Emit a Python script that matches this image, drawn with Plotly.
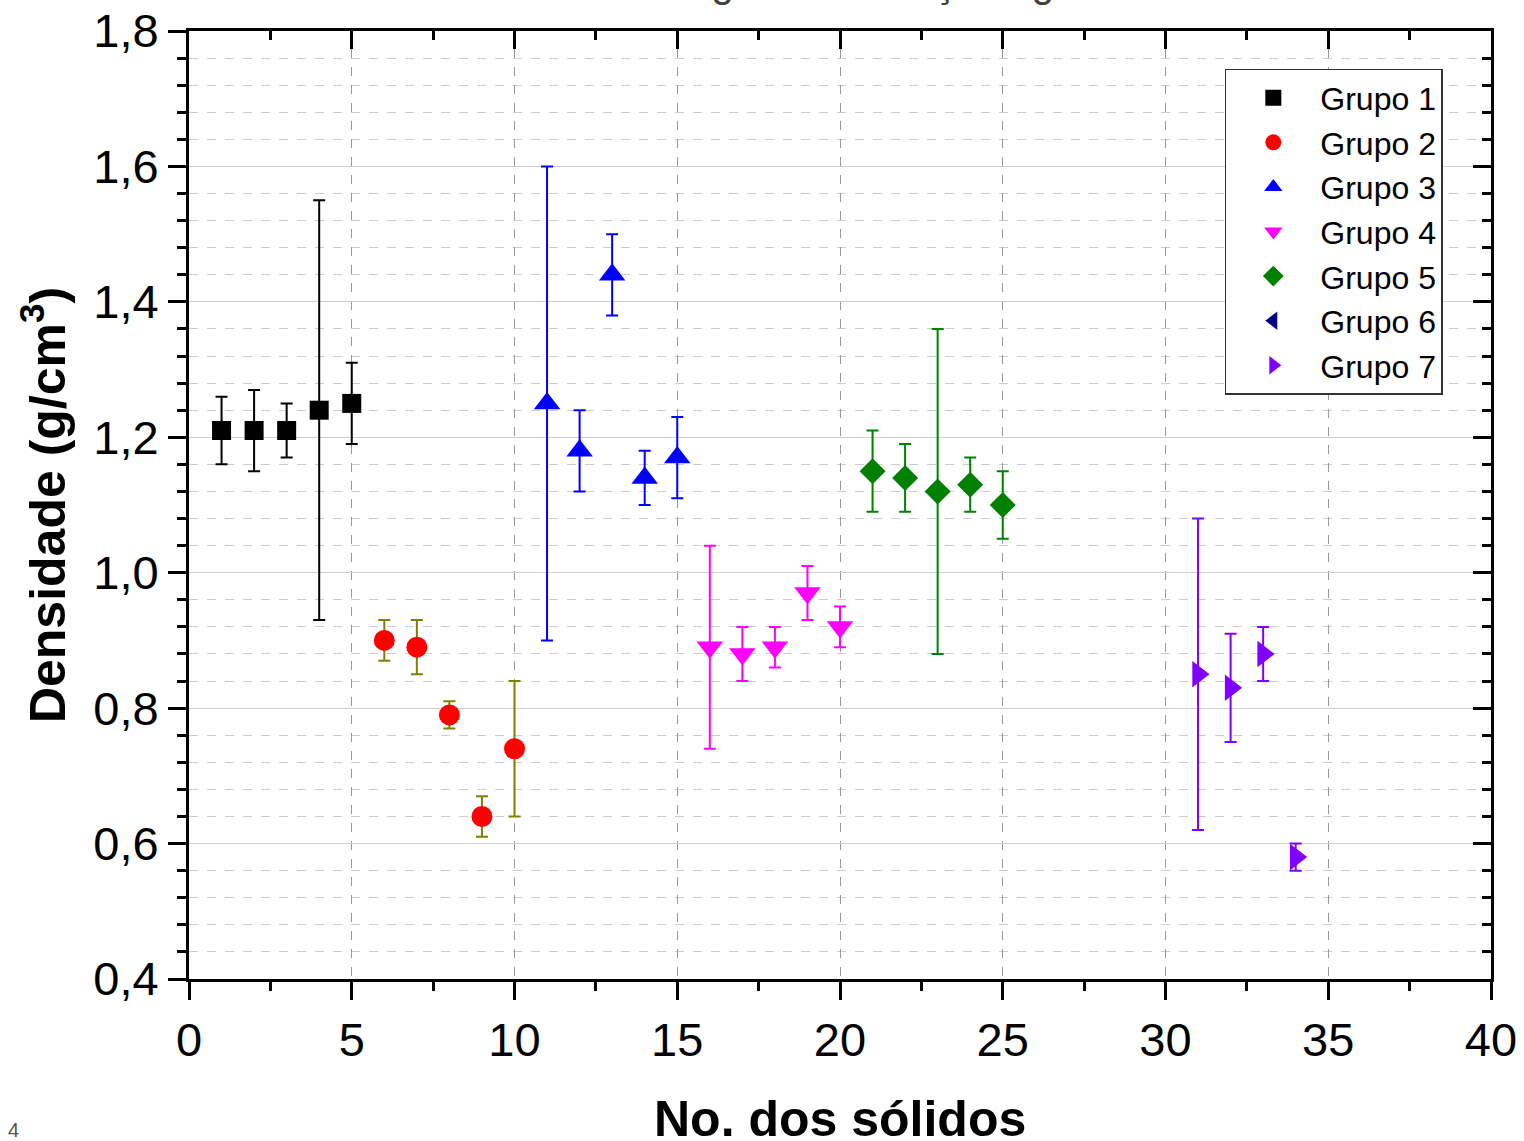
import plotly.graph_objects as go

# ---------------- data ----------------
g1_x = [1, 2, 3, 4, 5]
g1_y = [1.21, 1.21, 1.21, 1.24, 1.25]
g1_hi = [1.26, 1.27, 1.25, 1.55, 1.31]
g1_lo = [1.16, 1.15, 1.17, 0.93, 1.19]

g2_x = [6, 7, 8, 9, 10]
g2_y = [0.90, 0.89, 0.79, 0.64, 0.74]
g2_hi = [0.93, 0.93, 0.81, 0.67, 0.84]
g2_lo = [0.87, 0.85, 0.77, 0.61, 0.64]

g3_x = [11, 12, 13, 14, 15]
g3_y = [1.25, 1.18, 1.44, 1.14, 1.17]
g3_hi = [1.60, 1.24, 1.50, 1.18, 1.23]
g3_lo = [0.90, 1.12, 1.38, 1.10, 1.11]

g4_x = [16, 17, 18, 19, 20]
g4_y = [0.89, 0.88, 0.89, 0.97, 0.92]
g4_hi = [1.04, 0.92, 0.92, 1.01, 0.95]
g4_lo = [0.74, 0.84, 0.86, 0.93, 0.89]

g5_x = [21, 22, 23, 24, 25]
g5_y = [1.15, 1.14, 1.12, 1.13, 1.10]
g5_hi = [1.21, 1.19, 1.36, 1.17, 1.15]
g5_lo = [1.09, 1.09, 0.88, 1.09, 1.05]

g6_x = [None]
g6_y = [None]
g6_hi = [None]
g6_lo = [None]

g7_x = [31, 32, 33, 34]
g7_y = [0.85, 0.83, 0.88, 0.58]
g7_hi = [1.08, 0.91, 0.92, 0.60]
g7_lo = [0.62, 0.75, 0.84, 0.56]

x_ticks = [0, 5, 10, 15, 20, 25, 30, 35, 40]
y_ticks = [0.4, 0.6, 0.8, 1.0, 1.2, 1.4, 1.6, 1.8]

groups = [
    ("Grupo 1", g1_x, g1_y, g1_hi, g1_lo, "black", "black", "square", 19),
    ("Grupo 2", g2_x, g2_y, g2_hi, g2_lo, "#ff0000", "#808000", "circle", 21),
    ("Grupo 3", g3_x, g3_y, g3_hi, g3_lo, "#0000ff", "#0000ff", "triangle-up", 23),
    ("Grupo 4", g4_x, g4_y, g4_hi, g4_lo, "#ff00ff", "#ff00ff", "triangle-down", 23),
    ("Grupo 5", g5_x, g5_y, g5_hi, g5_lo, "#008000", "#008000", "diamond", 20),
    ("Grupo 6", g6_x, g6_y, g6_hi, g6_lo, "#000080", "#000080", "triangle-left", 23),
    ("Grupo 7", g7_x, g7_y, g7_hi, g7_lo, "#8000ff", "#8000ff", "triangle-right", 23),
]

fig = go.Figure()
for name, xs, ys, hi, lo, mcol, ecol, sym, sz in groups:
    plus = [None if (h is None or v is None) else round(h - v, 4) for h, v in zip(hi, ys)]
    minus = [None if (l is None or v is None) else round(v - l, 4) for l, v in zip(lo, ys)]
    fig.add_trace(go.Scatter(
        x=xs, y=ys, name=name, mode="markers",
        marker=dict(symbol=sym, size=sz, color=mcol, line=dict(width=0)),
        error_y=dict(type="data", symmetric=False, array=plus, arrayminus=minus,
                     color=ecol, thickness=2, width=6),
    ))

# trace with no data on the mirrored frame axes so they render
fig.add_trace(go.Scatter(x=[None], y=[None], xaxis="x2", yaxis="y2",
                         showlegend=False, hoverinfo="skip"))

font_main = "Liberation Sans, Arial, sans-serif"

fig.update_layout(
    width=1524, height=1141,
    margin=dict(l=189, r=33, t=31, b=162, autoexpand=False),
    paper_bgcolor="white", plot_bgcolor="white",
    separators=",.",
    font=dict(family=font_main, color="black", size=47),
    showlegend=True,
    legend=dict(
        x=0.963, y=0.960, xanchor="right", yanchor="top",
        bgcolor="white", bordercolor="#333333", borderwidth=1.5,
        font=dict(size=32, family=font_main),
        itemsizing="trace", itemwidth=84, tracegroupgap=0,
    ),
    xaxis=dict(
        range=[0, 40], tickvals=x_ticks, ticktext=[str(v) for v in x_ticks],
        showline=True, linecolor="black", linewidth=3,
        ticks="outside", ticklen=18, tickwidth=3, tickcolor="black",
        showgrid=True, gridcolor="#999999", griddash="dash", gridwidth=1,
        zeroline=False, automargin=False,
        minor=dict(dtick=2.5, tick0=0, ticks="outside", ticklen=9, tickwidth=3,
                   tickcolor="black", showgrid=False),
        tickfont=dict(size=47),
    ),
    yaxis=dict(
        range=[0.4, 1.8], tickvals=y_ticks, tickformat=".1f",
        showline=True, linecolor="black", linewidth=3,
        ticks="outside", ticklen=18, tickwidth=3, tickcolor="black",
        showgrid=True, gridcolor="#cfcfcf", gridwidth=1.2,
        zeroline=False, automargin=False,
        minor=dict(dtick=0.04, tick0=0.4, ticks="outside", ticklen=9, tickwidth=3,
                   tickcolor="black", showgrid=True, gridcolor="#cccccc",
                   griddash="dash", gridwidth=1),
        tickfont=dict(size=47),
        title=dict(text="<b>Densidade (g/cm<sup>3</sup>)</b>", font=dict(size=50), standoff=12),
    ),
    xaxis2=dict(
        overlaying="x", matches="x", side="top", anchor="y",
        range=[0, 40], tickvals=x_ticks, showticklabels=False,
        showline=True, linecolor="black", linewidth=3,
        ticks="inside", ticklen=18, tickwidth=3, tickcolor="black",
        showgrid=False, zeroline=False, automargin=False,
        minor=dict(dtick=2.5, tick0=0, ticks="inside", ticklen=9, tickwidth=3,
                   tickcolor="black", showgrid=False),
    ),
    yaxis2=dict(
        overlaying="y", matches="y", side="right", anchor="x",
        range=[0.4, 1.8], tickvals=y_ticks, showticklabels=False,
        showline=True, linecolor="black", linewidth=3,
        ticks="inside", ticklen=18, tickwidth=3, tickcolor="black",
        showgrid=False, zeroline=False, automargin=False,
        minor=dict(dtick=0.04, tick0=0.4, ticks="inside", ticklen=9, tickwidth=3,
                   tickcolor="black", showgrid=False),
    ),
    annotations=[
        dict(text="Densidade segundo a relação água/sólido",
             xref="paper", yref="paper", x=0.5, y=1.0 + 24 / 948,
             xanchor="center", yanchor="bottom", showarrow=False,
             font=dict(size=40, color="#404040", family=font_main)),
        dict(text="<b>No. dos sólidos</b>",
             xref="paper", yref="paper", x=0.5, y=-(1119 - 979) / 948,
             xanchor="center", yanchor="middle", showarrow=False,
             font=dict(size=50, color="black", family=font_main)),
        dict(text="4", xref="paper", yref="paper", x=-183 / 1302,
             y=-164 / 948, xanchor="left", yanchor="bottom",
             showarrow=False, font=dict(size=20, color="#555555")),
    ],
)

fig.write_html(
    "out.html",
    config={"displayModeBar": False},
    post_script="document.body.style.margin='0';document.body.style.overflow='hidden';",
)
